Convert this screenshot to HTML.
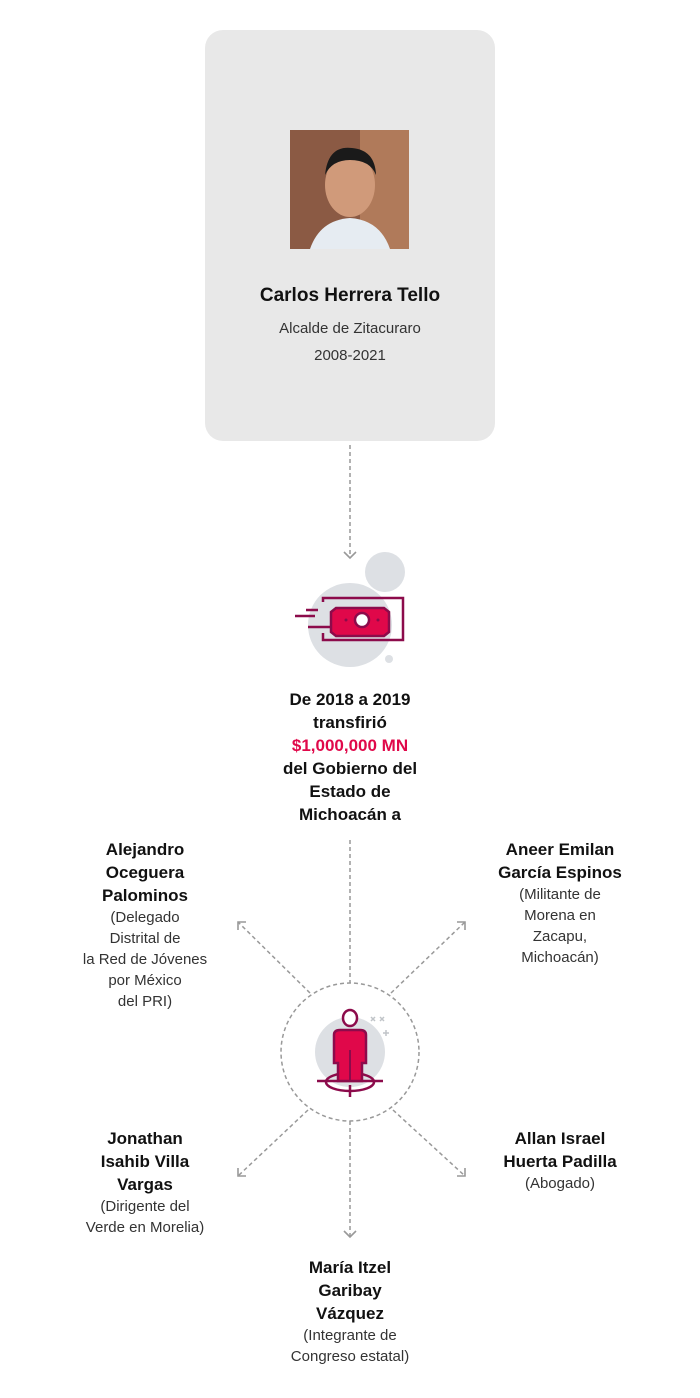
<!DOCTYPE html>
<html><head><meta charset="utf-8"><style>
body{margin:0;width:700px;height:1398px;background:#fff;position:relative;font-family:"Liberation Sans",sans-serif;color:#111;overflow:hidden}
.card{position:absolute;left:205px;top:30px;width:290px;height:411px;background:#e8e8e8;border-radius:18px}
.photo{position:absolute;left:290px;top:130px;width:119px;height:119px;background:linear-gradient(135deg,#7a4a3a,#a5694e 40%,#c89a7c 60%,#5c3a30)}
.t{position:absolute;text-align:center;line-height:23px}
.b{font-weight:bold;font-size:17px}
.r{font-size:15px;line-height:21px;color:#333}
</style></head><body>
<div class="card"></div>
<div class="photo">
<svg width="119" height="119"><rect width="119" height="119" fill="#8b5a44"/><rect x="70" width="49" height="119" fill="#b07a5a"/><path d="M20 119 Q30 90 60 88 Q90 90 100 119Z" fill="#e6ecf2"/><ellipse cx="60" cy="55" rx="25" ry="32" fill="#d09a7a"/><path d="M35 45 Q38 15 62 18 Q85 20 86 45 Q80 30 60 30 Q42 30 35 45Z" fill="#1a1a1a"/></svg>
</div>
<div class="t" style="left:205px;width:290px;top:284px;font-size:19px;font-weight:bold">Carlos Herrera Tello</div>
<div class="t r" style="left:205px;width:290px;top:315px;line-height:27px">Alcalde de Zitacuraro<br>2008-2021</div>

<svg width="700" height="1398" style="position:absolute;left:0;top:0">
<g stroke="#999" stroke-width="1.5" stroke-dasharray="4 3" fill="none">
<line x1="350" y1="445" x2="350" y2="556"/>
<line x1="350" y1="840" x2="350" y2="983"/>
<line x1="310" y1="993" x2="238" y2="922"/>
<line x1="391" y1="993" x2="465" y2="922"/>
<line x1="308" y1="1110" x2="238" y2="1176"/>
<line x1="393" y1="1110" x2="465" y2="1176"/>
<line x1="350" y1="1121" x2="350" y2="1236"/>
<circle cx="350" cy="1052" r="69"/>
</g>
<g stroke="#999" stroke-width="1.6" fill="none">
<polyline points="344,552 350,558 356,552"/>
<polyline points="238,930 238,922 246,922"/>
<polyline points="457,922 465,922 465,930"/>
<polyline points="238,1168 238,1176 246,1176"/>
<polyline points="457,1176 465,1176 465,1168"/>
<polyline points="344,1231 350,1237 356,1231"/>
</g>
<circle cx="385" cy="572" r="20" fill="#dde0e4"/>
<circle cx="350" cy="625" r="42" fill="#dde0e4"/>
<circle cx="389" cy="659" r="4" fill="#dde0e4"/>
<g stroke="#8c0b4b" stroke-width="2.5" fill="none">
<polyline points="323,602 323,598 403,598 403,640 323,640 323,633"/>
<line x1="295" y1="616" x2="315" y2="616"/><line x1="306" y1="610" x2="318" y2="610"/><line x1="308" y1="627" x2="330" y2="627"/>
</g>
<path d="M336 608 h48 l5 4 v20 l-5 4 h-48 l-5 -4 v-20z" fill="#e0084a" stroke="#8c0b4b" stroke-width="2.5"/>
<circle cx="362" cy="620" r="7" fill="#fff" stroke="#8c0b4b" stroke-width="2.5"/>
<circle cx="346" cy="620" r="1.5" fill="#8c0b4b"/><circle cx="378" cy="620" r="1.5" fill="#8c0b4b"/>
<circle cx="350" cy="1052" r="35" fill="#dde0e4"/>
<g stroke="#c0c4c8" stroke-width="1.5"><path d="M371 1017 l4 4 M375 1017 l-4 4 M380 1017 l4 4 M384 1017 l-4 4 M383 1033 h6 M386 1030 v6"/></g>
<ellipse cx="350" cy="1082" rx="24" ry="9" fill="none" stroke="#8c0b4b" stroke-width="2.5"/>
<line x1="317" y1="1081" x2="383" y2="1081" stroke="#8c0b4b" stroke-width="2.5"/>
<line x1="350" y1="1085" x2="350" y2="1097" stroke="#8c0b4b" stroke-width="2.5"/>
<ellipse cx="350" cy="1018" rx="7" ry="8" fill="#fff" stroke="#8c0b4b" stroke-width="2.5"/>
<path d="M334 1035 q0 -5 6 -5 h20 q6 0 6 5 v28 h-4 v18 h-24 v-18 h-4z" fill="#e0084a" stroke="#8c0b4b" stroke-width="2.5"/>
<line x1="350" y1="1050" x2="350" y2="1081" stroke="#8c0b4b" stroke-width="2"/>
</svg>

<div class="t b" style="left:250px;width:200px;top:688px">De 2018 a 2019<br>transfirió<br><span style="color:#e0084a">$1,000,000 MN</span><br>del Gobierno del<br>Estado de<br>Michoacán a</div>

<div class="t" style="left:60px;width:170px;top:838px"><div class="b">Alejandro<br>Oceguera<br>Palominos</div><div class="r">(Delegado<br>Distrital de<br>la Red de Jóvenes<br>por México<br>del PRI)</div></div>
<div class="t" style="left:475px;width:170px;top:838px"><div class="b">Aneer Emilan<br>García Espinos</div><div class="r">(Militante de<br>Morena en<br>Zacapu,<br>Michoacán)</div></div>
<div class="t" style="left:60px;width:170px;top:1127px"><div class="b">Jonathan<br>Isahib Villa<br>Vargas</div><div class="r">(Dirigente del<br>Verde en Morelia)</div></div>
<div class="t" style="left:475px;width:170px;top:1127px"><div class="b">Allan Israel<br>Huerta Padilla</div><div class="r">(Abogado)</div></div>
<div class="t" style="left:265px;width:170px;top:1256px"><div class="b">María Itzel<br>Garibay<br>Vázquez</div><div class="r">(Integrante de<br>Congreso estatal)</div></div>
</body></html>
